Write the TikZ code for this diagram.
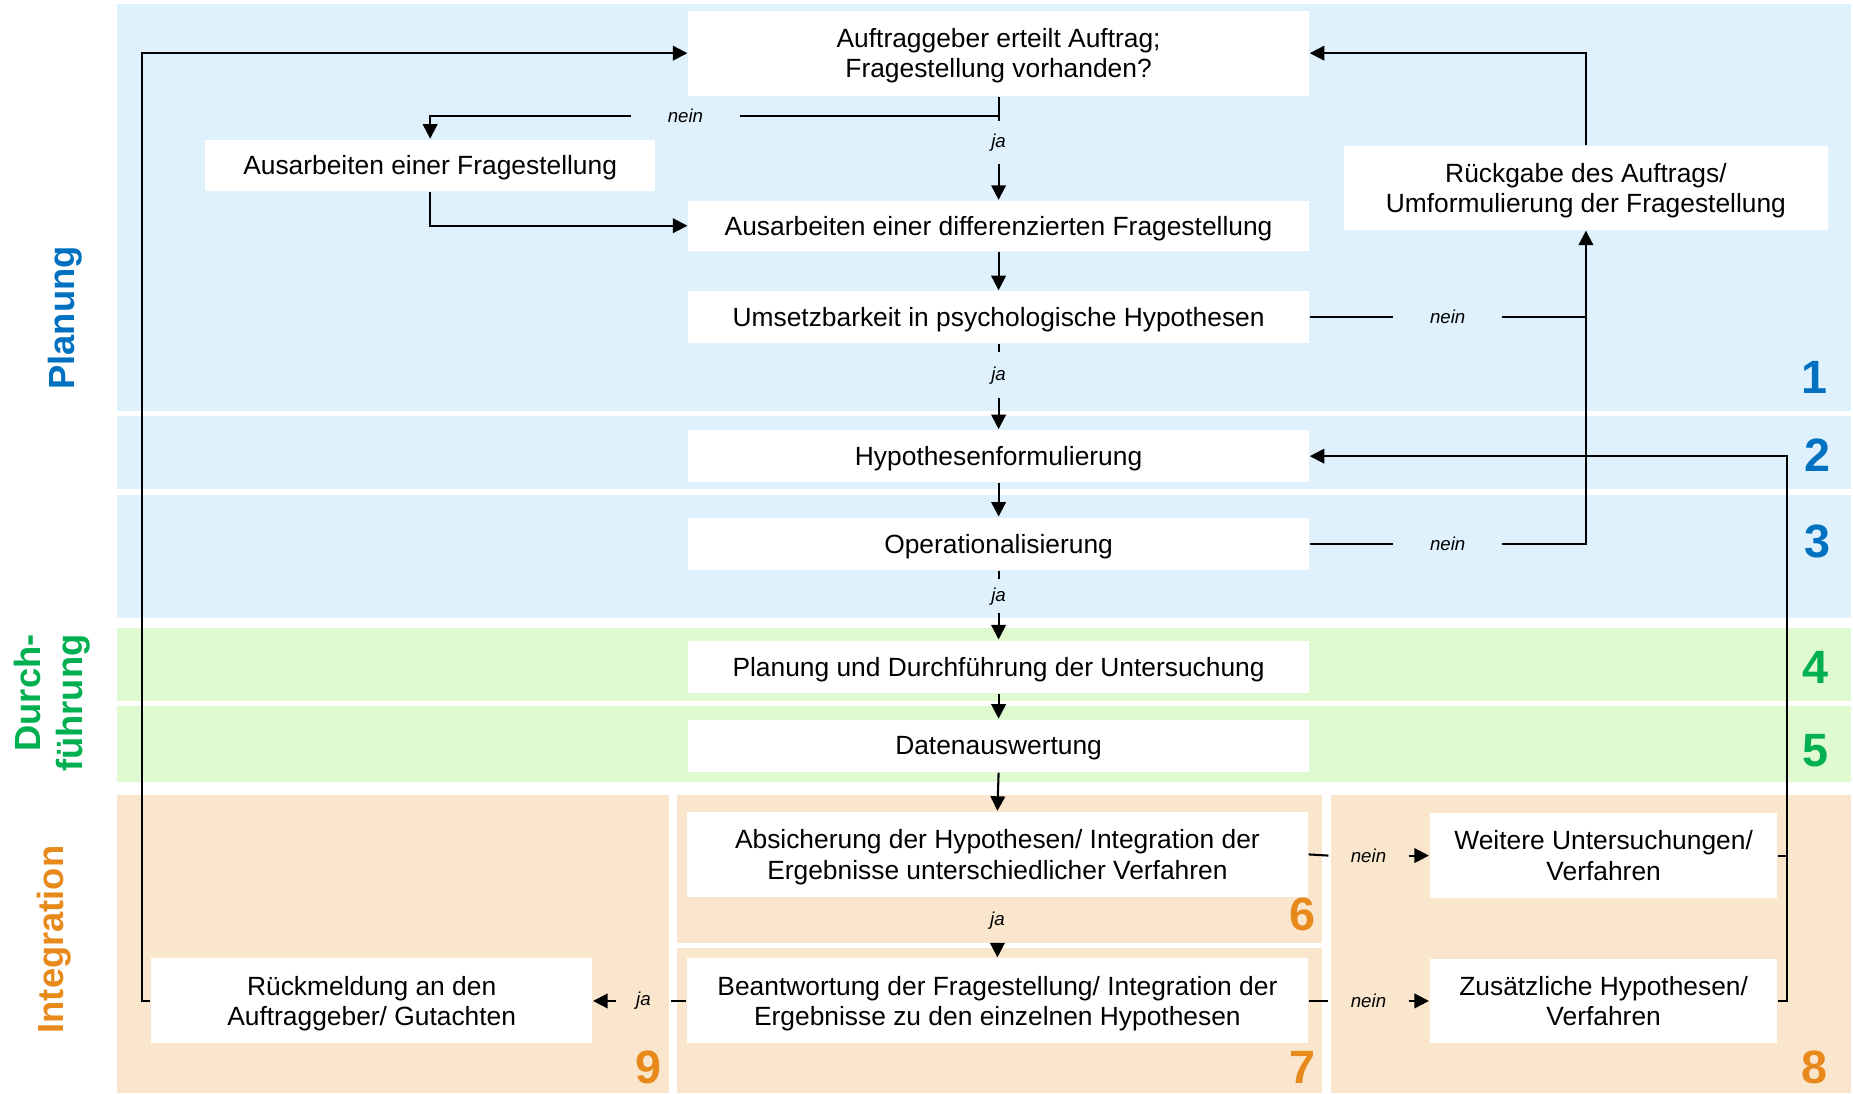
\documentclass[tikz,border=0pt]{standalone}
\usepackage{fontspec}
\setmainfont{Liberation Sans}
\usetikzlibrary{arrows.meta,positioning}
\definecolor{bandblue}{RGB}{222,241,253}
\definecolor{bandgreen}{RGB}{223,249,208}
\definecolor{bandorange}{RGB}{250,230,205}
\definecolor{txtblue}{RGB}{0,112,192}
\definecolor{txtgreen}{RGB}{0,176,80}
\definecolor{txtorange}{RGB}{232,137,28}
\begin{document}
\begin{tikzpicture}[x=0.02cm,y=-0.02cm,line width=1pt,
  box/.style={fill=white,inner sep=0pt,align=center,text depth=0pt,minimum width=10.5cm,minimum height=0.88cm,font=\fontsize{12.7}{14.6}\selectfont},
  lbl/.style={inner sep=0pt,font=\fontsize{9}{10}\selectfont\itshape},
  num/.style={anchor=base east,inner sep=0pt,font=\fontsize{22.5}{24}\selectfont\bfseries},
  phase/.style={rotate=90,inner sep=0pt,font=\fontsize{17.5}{20.5}\selectfont\bfseries},
  arr/.style={-{Triangle[length=7pt,width=7pt]}}]
\useasboundingbox (0,0) rectangle (1568,925);
\fill[bandblue] (99,3) rectangle (1566,348);
\fill[bandblue] (99,352) rectangle (1566,414);
\fill[bandblue] (99,419) rectangle (1566,523);
\fill[bandgreen] (99,531) rectangle (1566,593);
\fill[bandgreen] (99,597) rectangle (1566,662);
\fill[bandorange] (99,673) rectangle (566,925);
\fill[bandorange] (573,673) rectangle (1119,798);
\fill[bandorange] (573,802) rectangle (1119,925);
\fill[bandorange] (1126,673) rectangle (1566,925);
\node[phase,txtblue,anchor=base] (plan) at (63,269) {Planung};
\node[phase,txtgreen,anchor=north east,align=right] (durch) at (11,536) {Durch-\\führung};
\node[phase,txtorange,anchor=base] (integ) at (54,795) {Integration};
\node[num,txtblue] (n1) at (1547,333) {1};
\node[num,txtblue] (n2) at (1550,399) {2};
\node[num,txtblue] (n3) at (1550,472) {3};
\node[num,txtgreen] (n4) at (1548,578) {4};
\node[num,txtgreen] (n5) at (1548,649) {5};
\node[num,txtorange] (n6) at (1114,787) {6};
\node[num,txtorange] (n7) at (1114,917) {7};
\node[num,txtorange] (n8) at (1547,917) {8};
\node[num,txtorange] (n9) at (561,917) {9};
\node[box,minimum height=1.44cm] (q1) at (845,45) {Auftraggeber erteilt Auftrag;\\Fragestellung vorhanden?};
\node[box,minimum width=7.61cm,minimum height=0.87cm] (a1) at (364,140) {Ausarbeiten einer Fragestellung};
\node[box,minimum height=0.84cm] (d1) at (845,191) {Ausarbeiten einer differenzierten Fragestellung};
\node[box] (u1) at (845,268.5) {Umsetzbarkeit in psychologische Hypothesen};
\node[box] (h1) at (845,386) {Hypothesenformulierung};
\node[box] (o1) at (845,460) {Operationalisierung};
\node[box] (p1) at (845,564) {Planung und Durchführung der Untersuchung};
\node[box] (da1) at (845,631) {Datenauswertung};
\node[box,minimum height=1.44cm] (a9) at (844,723) {Absicherung der Hypothesen/ Integration der\\Ergebnisse unterschiedlicher Verfahren};
\node[box,minimum height=1.44cm] (b10) at (844,847) {Beantwortung der Fragestellung/ Integration der\\Ergebnisse zu den einzelnen Hypothesen};
\node[box,minimum width=7.46cm,minimum height=1.44cm] (g1) at (314.5,847) {Rückmeldung an den\\Auftraggeber/ Gutachten};
\node[box,minimum width=5.88cm,minimum height=1.44cm] (w1) at (1357,724) {Weitere Untersuchungen/\\Verfahren};
\node[box,minimum width=5.88cm,minimum height=1.42cm] (z1) at (1357,847) {Zusätzliche Hypothesen/\\Verfahren};
\node[box,minimum width=8.18cm,minimum height=1.41cm] (r1) at (1342,159) {Rückgabe des Auftrags/\\Umformulierung der Fragestellung};
\node[lbl,minimum height=0.7cm] (ja1) at (845,120.5) {ja};
\node[lbl,minimum width=1.8cm] (nein1) at (580,98) {nein};
\node[lbl,minimum height=0.74cm] (ja2) at (845,317.5) {ja};
\node[lbl,minimum width=1.8cm] (nein2) at (1225,268.5) {nein};
\node[lbl,minimum width=1.8cm] (nein3) at (1225,460) {nein};
\node[lbl,minimum height=0.54cm] (ja3) at (845,504.5) {ja};
\node[lbl,minimum height=0.72cm,below=0pt of a9] (ja4) {ja};
\node[lbl,minimum width=1.32cm] (nein4) at (1158,724) {nein};
\node[lbl,minimum width=1.32cm] (nein5) at (1158,847) {nein};
\node[lbl,minimum width=0.9cm] (ja5) at (544.5,847) {ja};
\draw (q1.south) -- (ja1.north);
\draw[arr] (ja1.south) -- (d1.north);
\draw (nein1.east) -- (nein1.east -| q1.south);
\draw[arr] (nein1.west) -| (a1.north);
\draw[arr] (a1.south) |- (d1.west);
\draw[arr] (d1.south) -- (u1.north);
\draw (u1.south) -- (ja2.north);
\draw[arr] (ja2.south) -- (h1.north);
\draw[arr] (h1.south) -- (o1.north);
\draw (o1.south) -- (ja3.north);
\draw[arr] (ja3.south) -- (p1.north);
\draw[arr] (p1.south) -- (da1.north);
\draw[arr] (da1.south) -- (a9.north);
\draw[arr] (ja4.south) -- (b10.north);
\draw (u1.east) -- (nein2.west);
\draw (nein2.east) -- (nein2.east -| r1.south);
\draw (o1.east) -- (nein3.west);
\draw[arr] (nein3.east) -| (r1.south);
\draw[arr] (r1.north) |- (q1.east);
\draw (a9.east) -- (nein4.west);
\draw[arr] (nein4.east) -- (w1.west);
\draw (b10.east) -- (nein5.west);
\draw[arr] (nein5.east) -- (z1.west);
\draw (b10.west) -- (ja5.east);
\draw[arr] (ja5.west) -- (g1.east);
\coordinate (rbus) at (1512,386);
\draw[arr] (w1.east) -| (rbus) -- (h1.east);
\draw (z1.east) -| (rbus);
\coordinate (lbus) at (120,45);
\draw[arr] (g1.west) -| (lbus) -- (q1.west);
\end{tikzpicture}
\end{document}
